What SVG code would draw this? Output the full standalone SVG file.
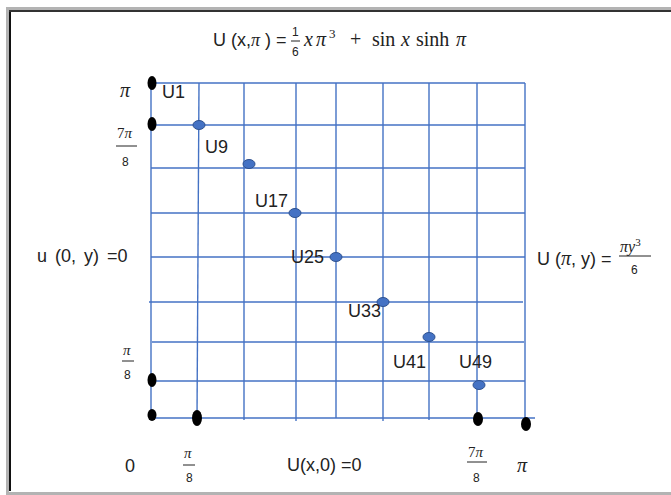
<svg xmlns="http://www.w3.org/2000/svg" width="671" height="495" viewBox="0 0 671 495">
<style>
.t{font-family:"Liberation Sans",Arial,sans-serif;font-size:18px;fill:#222}
.m{font-family:"Liberation Serif","Times New Roman",serif;font-size:20px;fill:#222}
.mi{font-family:"Liberation Serif","Times New Roman",serif;font-style:italic;font-size:18px;fill:#222}
.f{font-family:"Liberation Sans",Arial,sans-serif;font-size:12px;fill:#222}
.g{stroke:#4472C4;stroke-width:1.4;fill:none}
.bd{fill:#000}
.bl{fill:#4472C4;stroke:#2F528F;stroke-width:1}
.fl{stroke:#222;stroke-width:1}
</style>
<rect width="671" height="495" fill="#fff"/>
<g id="frame">
<line x1="7.5" y1="7" x2="7.5" y2="495" stroke="#b3b3b3" stroke-width="3"/>
<line x1="6" y1="8.5" x2="671" y2="8.5" stroke="#b3b3b3" stroke-width="3"/>
<line x1="10" y1="10" x2="10" y2="491" stroke="#111" stroke-width="2"/>
<line x1="9" y1="11" x2="671" y2="11" stroke="#333" stroke-width="2"/>
<line x1="8" y1="493.5" x2="671" y2="493.5" stroke="#b3b3b3" stroke-width="3"/>
</g>
<g id="grid">
<line class="g" x1="151" y1="83" x2="151" y2="418"/>
<line class="g" x1="199" y1="83" x2="197" y2="418"/>
<line class="g" x1="244" y1="83" x2="244" y2="420"/>
<line class="g" x1="296" y1="83" x2="296" y2="421"/>
<line class="g" x1="336" y1="83" x2="336" y2="418"/>
<line class="g" x1="383" y1="83" x2="383" y2="421"/>
<line class="g" x1="429" y1="83" x2="429" y2="420"/>
<line class="g" x1="477" y1="83" x2="477" y2="420"/>
<line class="g" x1="525" y1="83" x2="525" y2="418"/>
<line class="g" x1="151" y1="83" x2="525" y2="83"/>
<line class="g" x1="151" y1="125" x2="525" y2="125"/>
<line class="g" x1="151" y1="168" x2="525" y2="168"/>
<line class="g" x1="151" y1="213" x2="525" y2="213"/>
<line class="g" x1="151" y1="257" x2="525" y2="257"/>
<line class="g" x1="149" y1="302" x2="523" y2="302"/>
<line class="g" x1="152" y1="342" x2="524" y2="342"/>
<line class="g" x1="151" y1="381" x2="525" y2="381"/>
<line class="g" x1="151" y1="418" x2="535" y2="418"/>
</g>
<g id="boundary-points">
<ellipse class="bd" cx="152" cy="83" rx="4.5" ry="7"/>
<ellipse class="bd" cx="152" cy="124" rx="4.5" ry="7"/>
<ellipse class="bd" cx="152" cy="380" rx="4.5" ry="7"/>
<ellipse class="bd" cx="152" cy="415" rx="4.5" ry="6"/>
<ellipse class="bd" cx="197" cy="418" rx="5" ry="8"/>
<ellipse class="bd" cx="478" cy="419" rx="5" ry="7"/>
<ellipse class="bd" cx="526" cy="424" rx="5" ry="7"/>
</g>
<g id="interior-points">
<ellipse class="bl" cx="199" cy="125" rx="6" ry="4.5"/>
<ellipse class="bl" cx="249" cy="164" rx="6" ry="4.5"/>
<ellipse class="bl" cx="295" cy="213" rx="6" ry="4.5"/>
<ellipse class="bl" cx="336" cy="257" rx="6" ry="4.5"/>
<ellipse class="bl" cx="383" cy="302" rx="6" ry="4.5"/>
<ellipse class="bl" cx="429" cy="337" rx="6" ry="4.5"/>
<ellipse class="bl" cx="479" cy="385" rx="6" ry="4.5"/>
</g>
<g id="labels">
<text class="t" x="162" y="98">U1</text>
<text class="t" x="205" y="153">U9</text>
<text class="t" x="255" y="207">U17</text>
<text class="t" x="291" y="263">U25</text>
<text class="t" x="348" y="317">U33</text>
<text class="t" x="393" y="368">U41</text>
<text class="t" x="459" y="368">U49</text>
</g>
<g id="title">
<text x="213" y="46"><tspan class="t">U (x,</tspan><tspan class="mi">π</tspan><tspan class="t"> ) =</tspan></text>
<text class="f" x="292" y="36">1</text>
<line class="fl" x1="291" y1="41" x2="300" y2="41"/>
<text class="f" x="292" y="56">6</text>
<text class="mi" style="font-size:20px" x="304" y="46">x</text>
<text class="mi" style="font-size:20px" x="316" y="46">π</text>
<text class="m" style="font-size:13px" x="329" y="38">3</text>
<text class="m" x="350" y="46">+</text>
<text class="m" x="372" y="46">sin</text>
<text class="mi" style="font-size:20px" x="401" y="46">x</text>
<text class="m" x="416" y="46">sinh</text>
<text class="mi" style="font-size:20px" x="456" y="46">π</text>
</g>
<g id="axis-y">
<text class="mi" style="font-size:20px" x="120" y="97">π</text>
<text x="117" y="138"><tspan class="m" style="font-size:15px">7</tspan><tspan class="mi" style="font-size:15px">π</tspan></text>
<line class="fl" x1="116" y1="146" x2="137" y2="146"/>
<text class="f" x="122" y="166">8</text>
<text class="mi" style="font-size:15px" x="123" y="355">π</text>
<line class="fl" x1="122" y1="361" x2="134" y2="361"/>
<text class="f" x="124" y="379">8</text>
</g>
<g id="axis-x">
<text class="t" x="125" y="472">0</text>
<text class="mi" style="font-size:15px" x="184" y="458">π</text>
<line class="fl" x1="183" y1="465" x2="195" y2="465"/>
<text class="f" x="186" y="482">8</text>
<text class="t" x="287" y="471">U(x,0) =0</text>
<text x="468" y="457"><tspan class="m" style="font-size:15px">7</tspan><tspan class="mi" style="font-size:15px">π</tspan></text>
<line class="fl" x1="467" y1="462" x2="487" y2="462"/>
<text class="f" x="473" y="482">8</text>
<text class="mi" style="font-size:20px" x="517" y="472">π</text>
</g>
<g id="left-bc">
<text class="t" x="37" y="262" word-spacing="3">u (0, y) =0</text>
</g>
<g id="right-bc">
<text x="537" y="265"><tspan class="t">U (</tspan><tspan class="mi" style="font-size:20px">π</tspan><tspan class="t">, y) =</tspan></text>
<text x="620" y="252"><tspan class="mi" style="font-size:16px">πy</tspan><tspan class="m" style="font-size:11px" dy="-6">3</tspan></text>
<line class="fl" x1="619" y1="256" x2="651" y2="256"/>
<text class="f" x="631" y="274">6</text>
</g>
</svg>
